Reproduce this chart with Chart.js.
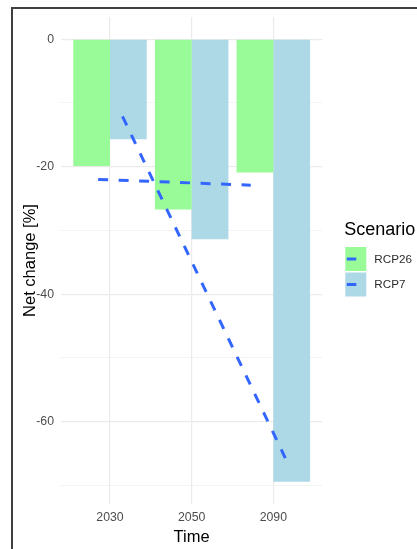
<!DOCTYPE html>
<html>
<head>
<meta charset="utf-8">
<title>Net change by scenario</title>
<script src="https://cdn.jsdelivr.net/npm/chart.js@4.4.0/dist/chart.umd.min.js"></script>
<style>
  html, body { margin: 0; padding: 0; background: #fff; }
  #wrap { position: relative; width: 417px; height: 549px; overflow: hidden; }
  #chart { position: absolute; left: 0; top: 0; }
  /* the dark frame that runs along the left and top edge */
  #frame { position: absolute; left: 11px; top: 7px; right: -5px; bottom: -5px;
           border-left: 2px solid #404040; border-top: 2px solid #404040; pointer-events: none; }
</style>
</head>
<body>
<div id="wrap">
  <canvas id="chart" width="417" height="549"></canvas>
  <div id="frame"></div>
</div>
<script>
// Data
const years = ['2030', '2050', '2090'];
const scenarios = ['RCP26', 'RCP7'];
const rcp26 = [-19.9, -26.7, -20.9];
const rcp7 = [-15.7, -31.4, -69.4];

// Dashed trend lines (start, end); x is in year-index units
const rcp26TrendX = [-0.145, 1.724];
const rcp26TrendY = [-22.0, -22.9];
const rcp7TrendX = [0.153, 2.147];
const rcp7TrendY = [-12.1, -65.7];

const yTicks = [-70, -60, -50, -40, -30, -20, -10, 0];

const barColors = ['#98fb98', '#add8e6'];
const lineColor = '#3366ff';
const FONT = '"Liberation Sans", Arial, Helvetica, sans-serif';

const toPoints = (xs, ys) => xs.map((x, i) => ({ x, y: ys[i] }));

// ggplot-like legend on the right: filled keys with a short dash inside
const scenarioLegend = {
  id: 'scenarioLegend',
  afterDraw(chart) {
    const ctx = chart.ctx;
    const x0 = chart.chartArea.right + 23;
    ctx.save();
    ctx.textBaseline = 'middle';
    ctx.textAlign = 'left';
    ctx.fillStyle = '#000';
    ctx.font = '18px ' + FONT;
    ctx.fillText('Scenario', x0 - 1, 230);
    scenarios.forEach((name, i) => {
      const y = 247 + i * 25.5;
      ctx.fillStyle = barColors[i];
      ctx.fillRect(x0, y, 21, 24);
      ctx.strokeStyle = lineColor;
      ctx.lineWidth = 3;
      ctx.beginPath();
      ctx.moveTo(x0 + 1.5, y + 12);
      ctx.lineTo(x0 + 11, y + 12);
      ctx.stroke();
      ctx.fillStyle = '#2b2b2b';
      ctx.font = '11.7px ' + FONT;
      ctx.fillText(name, x0 + 29, y + 12.5);
    });
    ctx.restore();
  }
};

const ctx = document.getElementById('chart').getContext('2d');
new Chart(ctx, {
  type: 'bar',
  data: {
    datasets: [
      {
        type: 'line', label: 'RCP26 trend', order: 0,
        data: toPoints(rcp26TrendX, rcp26TrendY),
        borderColor: lineColor, borderWidth: 3, borderDash: [10, 10.5],
        pointRadius: 0, fill: false, tension: 0
      },
      {
        type: 'line', label: 'RCP7 trend', order: 0,
        data: toPoints(rcp7TrendX, rcp7TrendY),
        borderColor: lineColor, borderWidth: 3, borderDash: [10, 10.5],
        pointRadius: 0, fill: false, tension: 0
      },
      {
        label: scenarios[0], order: 1,
        data: rcp26.map((v, i) => ({ x: i, y: v })),
        backgroundColor: barColors[0], borderWidth: 0
      },
      {
        label: scenarios[1], order: 1,
        data: rcp7.map((v, i) => ({ x: i, y: v })),
        backgroundColor: barColors[1], borderWidth: 0
      }
    ]
  },
  options: {
    responsive: false,
    animation: false,
    categoryPercentage: 0.9,
    barPercentage: 1.0,
    layout: { padding: { left: 0, top: 17, right: 94.7, bottom: 0 } },
    plugins: { legend: { display: false }, tooltip: { enabled: false } },
    scales: {
      x: {
        type: 'linear',
        min: -0.6, max: 2.6,
        offset: false,
        afterBuildTicks: (scale) => { scale.ticks = years.map((_, i) => ({ value: i })); },
        afterFit: (scale) => { scale.height = 45; },
        grid: { offset: false, color: '#ebebeb', lineWidth: 1.2, drawTicks: false },
        border: { display: false },
        ticks: {
          padding: 6, color: '#4d4d4d', font: { family: FONT, size: 12.3 },
          maxRotation: 0,
          callback: (v) => years[v] ?? ''
        },
        title: {
          display: true, text: 'Time', color: '#000',
          font: { family: FONT, size: 16.5 }, padding: { top: 0, bottom: 1.6 }
        }
      },
      y: {
        min: -72.9, max: 3.47,
        afterBuildTicks: (scale) => { scale.ticks = yTicks.map((v) => ({ value: v })); },
        afterFit: (scale) => { scale.width = 61; },
        grid: {
          color: '#ebebeb', drawTicks: false,
          lineWidth: (c) => (c.tick && c.tick.value % 20 === 0 ? 1.2 : 0.6)
        },
        border: { display: false },
        ticks: {
          padding: 7, color: '#4d4d4d', font: { family: FONT, size: 12.3 },
          callback: (v) => (v % 20 === 0 ? String(v) : '')
        },
        title: {
          display: true, text: 'Net change [%]', color: '#000',
          font: { family: FONT, size: 16.5 }, padding: { top: 21, bottom: 0 }
        }
      }
    }
  },
  plugins: [scenarioLegend]
});
</script>
</body>
</html>
